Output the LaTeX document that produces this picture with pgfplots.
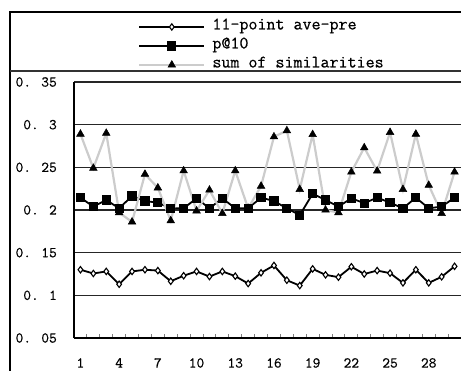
\documentclass[border=0pt]{standalone}
\usepackage{fontspec}
\newfontfamily\mono{Latin Modern Mono}[FakeBold=0.6]
\usepackage{pgfplots}
\pgfplotsset{compat=1.18}
\begin{document}
\begin{tikzpicture}[x=1pt,y=1pt]
\useasboundingbox (0,0) rectangle (461,370);
% frame
\draw[line width=1.3pt] (10,-2) -- (10,358) -- (470,358);
\draw[line width=1.3pt, black!80] (10,299) -- (470,299);
\begin{axis}[
  at={(74pt,32pt)}, anchor=south west,
  scale only axis, width=387pt, height=256pt,
  xmin=0.5, xmax=30.5, ymin=0.05, ymax=0.35,
  axis x line=bottom, axis y line=left,
  axis line style={-, line width=1.4pt},
  xtick={1,4,...,28},
  xticklabels={1,4,7,10,13,16,19,22,25,28},
  minor xtick={0.5,1.5,...,29.5},
  ytick={0.05,0.1,0.15,0.2,0.25,0.3,0.35},
  yticklabels={0. 05,0. 1,0. 15,0. 2,0. 25,0. 3,0. 35},
  major tick length=0pt, minor tick length=4pt, tick align=inside,
  minor tick style={line width=0.9pt},
  ymajorgrids, major grid style={line width=1.2pt, black!85},
  tick label style={font=\mono\fontsize{15}{15}\selectfont, inner sep=0pt},
  yticklabel style={anchor=east, xshift=-17pt},
  xticklabel style={anchor=north, yshift=-20pt},
  clip=false,
  legend image code/.code={\draw[mark repeat=2,mark phase=2,#1] plot coordinates {(0pt,0pt)(32.5pt,0pt)(65pt,0pt)};},
  legend style={draw=none, fill=none, inner sep=0pt, at={(axis description cs:0.1654,1.249)}, anchor=north west,
    font=\mono\fontsize{17.5}{17.5}\selectfont, row sep=2pt, column sep=7pt,
    nodes={inner sep=0pt, text height=11pt, text depth=6pt}},
  legend cell align=left,
]
\addplot[black, line width=1.8pt, mark=diamond*, mark size=3.2pt, mark options={fill=white, line width=1.1pt}] coordinates {
(1,0.130)(2,0.1256)(3,0.128)(4,0.113)(5,0.128)(6,0.130)(7,0.129)(8,0.1165)(9,0.123)(10,0.128)
(11,0.122)(12,0.128)(13,0.1225)(14,0.1138)(15,0.1264)(16,0.135)(17,0.1177)(18,0.1114)(19,0.131)(20,0.124)
(21,0.1213)(22,0.1335)(23,0.125)(24,0.129)(25,0.126)(26,0.1146)(27,0.130)(28,0.1146)(29,0.1217)(30,0.134)};
\addlegendentry{11-point ave-pre}
\addplot[black, line width=1.8pt, mark=square*, mark size=3.7pt] coordinates {
(1,0.2145)(2,0.204)(3,0.2117)(4,0.202)(5,0.2164)(6,0.2105)(7,0.2086)(8,0.202)(9,0.202)(10,0.2137)
(11,0.202)(12,0.2137)(13,0.202)(14,0.202)(15,0.2145)(16,0.2105)(17,0.202)(18,0.194)(19,0.219)(20,0.2117)
(21,0.204)(22,0.2137)(23,0.208)(24,0.2145)(25,0.2086)(26,0.202)(27,0.2145)(28,0.202)(29,0.204)(30,0.2145)};
\addlegendentry{p@10}
\addplot[black!20, line width=2.2pt, mark=triangle*, mark size=4.4pt, mark options={black, fill=black, line width=0.5pt}] coordinates {
(1,0.289)(2,0.249)(3,0.290)(4,0.197)(5,0.186)(6,0.242)(7,0.226)(8,0.1875)(9,0.246)(10,0.199)
(11,0.2234)(12,0.196)(13,0.246)(14,0.202)(15,0.228)(16,0.2858)(17,0.293)(18,0.2242)(19,0.2885)(20,0.200)
(21,0.197)(22,0.2445)(23,0.273)(24,0.2457)(25,0.291)(26,0.2242)(27,0.289)(28,0.229)(29,0.196)(30,0.2445)};
\addlegendentry{sum of similarities}
\end{axis}
\end{tikzpicture}
\end{document}
